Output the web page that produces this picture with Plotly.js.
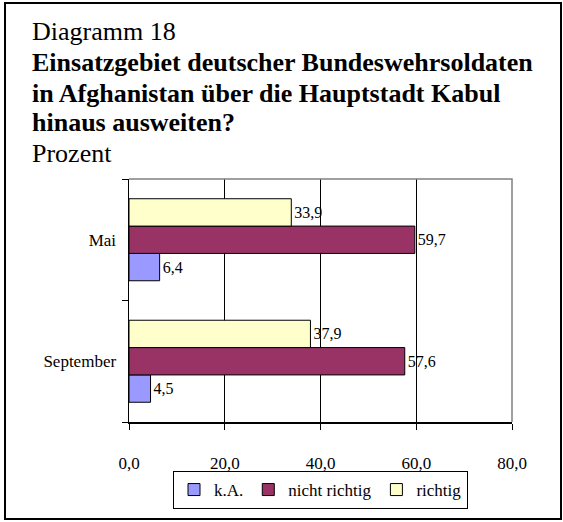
<!DOCTYPE html>
<html>
<head>
<meta charset="utf-8">
<script src="https://cdn.plot.ly/plotly-3.0.1.min.js"></script>
<style>
  body { margin: 0; background: #fff; }
  #chart { width: 563px; height: 522px; }
</style>
</head>
<body>
<div id="chart"></div>
<script>
// months on the category axis, top to bottom as in the picture
var months = ["Mai", "September"];

// values per answer (Prozent)
var kaValues = [6.4, 4.5];
var nichtRichtigValues = [59.7, 57.6];
var richtigValues = [33.9, 37.9];

var xTickVals = [0, 20, 40, 60, 80];
var xTickText = ["0,0", "20,0", "40,0", "60,0", "80,0"];

var serif = "Liberation Serif, Times New Roman, serif";

// german decimal comma for the bar labels
function label(v) {
    return v.toFixed(1).replace(".", ",");
}

function makeTrace(values, name, color) {
    return {
        type: "bar",
        orientation: "h",
        y: months,
        x: values,
        name: name,
        text: values.map(label),
        textposition: "outside",
        constraintext: "none",
        cliponaxis: false,
        textfont: { family: serif, size: 16, color: "#000" },
        marker: { color: color, line: { color: "#000", width: 1 } },
        hoverinfo: "x+name"
    };
}

// first trace ends up lowest inside each group
var data = [
    makeTrace(kaValues, "k.A.", "#9999FF"),
    makeTrace(nichtRichtigValues, "nicht richtig", "#993366"),
    makeTrace(richtigValues, "richtig", "#FFFFCC")
];

// plot area is 129..512 px across, 179..422 px down
function px(x) { return (x - 129) / 383; }
function py(y) { return (422 - y) / 243; }

function titleLine(text, y, bold) {
    return {
        xref: "paper", yref: "paper",
        x: px(30), y: py(y),
        xanchor: "left", yanchor: "middle",
        text: bold ? "<b>" + text + "</b>" : text,
        showarrow: false,
        font: { family: serif, size: 26, color: "#000" }
    };
}

var layout = {
    width: 563,
    height: 522,
    margin: { l: 129, r: 51, t: 179, b: 100 },
    paper_bgcolor: "#fff",
    plot_bgcolor: "#fff",
    font: { family: serif, size: 17, color: "#000" },
    barmode: "group",
    bargap: 0.325,
    bargroupgap: 0,
    showlegend: true,
    legend: {
        orientation: "h",
        x: 0.5, xanchor: "center",
        y: py(471), yanchor: "top",
        bordercolor: "#000",
        borderwidth: 1,
        font: { family: serif, size: 17 },
        itemwidth: 30,
        traceorder: "normal"
    },
    xaxis: {
        range: [0, 80],
        tickvals: xTickVals,
        ticktext: xTickText,
        ticks: "outside",
        ticklen: 6,
        tickcolor: "#000",
        ticklabelstandoff: 19,
        showline: true,
        linecolor: "#000",
        linewidth: 1.5,
        showgrid: true,
        gridcolor: "#000",
        gridwidth: 1,
        zeroline: false,
        fixedrange: true
    },
    yaxis: {
        type: "category",
        categoryorder: "array",
        categoryarray: months.slice().reverse(),
        ticks: "outside",
        tickson: "boundaries",
        ticklen: 6,
        tickcolor: "#000",
        ticklabelstandoff: 8,
        showline: true,
        linecolor: "#000",
        linewidth: 1.5,
        showgrid: false,
        zeroline: false,
        fixedrange: true
    },
    annotations: [
        titleLine("Diagramm 18", 31, false),
        titleLine("Einsatzgebiet deutscher Bundeswehrsoldaten", 63, true),
        titleLine("in Afghanistan über die Hauptstadt Kabul", 93, true),
        titleLine("hinaus ausweiten?", 123, true),
        titleLine("Prozent", 153, false)
    ],
    shapes: [
        // grey frame on top and right of the plot area
        {
            type: "path", xref: "paper", yref: "paper", layer: "above",
            path: "M0,1 L1,1 L1,0",
            line: { color: "#808080", width: 1.5 }
        },
        // outer border of the whole chart
        {
            type: "rect", xref: "paper", yref: "paper", layer: "above",
            x0: px(5), x1: px(561), y0: py(519), y1: py(3),
            line: { color: "#000", width: 2 }
        }
    ]
};

Plotly.newPlot("chart", data, layout, { displayModeBar: false, staticPlot: true });
</script>
</body>
</html>
